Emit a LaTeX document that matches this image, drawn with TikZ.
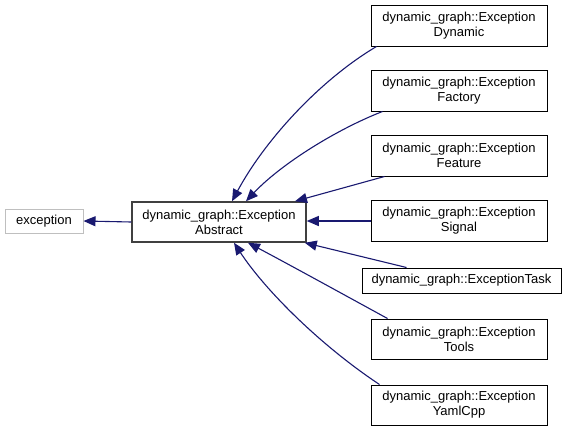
\documentclass[tikz,border=0pt]{standalone}
\usepackage{fontspec}
\setmainfont{Liberation Sans}
\usetikzlibrary{arrows.meta,calc}
\definecolor{edgeblue}{HTML}{191970}
\definecolor{boxgray}{HTML}{404040}
\definecolor{lightgray}{HTML}{BFBFBF}
\begin{document}
\begin{tikzpicture}[x=1pt,y=-1pt,
  font=\fontsize{13}{15}\selectfont,
  cls/.style={draw=black,line width=1pt,fill=white,inner sep=0pt,align=center,minimum width=176pt,minimum height=41pt},
  arr/.style={draw=edgeblue,line width=1.1pt,-{Triangle[length=12pt,width=10pt]}}]
\useasboundingbox (0,0) rectangle (567,431);
\node[draw=lightgray,line width=1pt,inner sep=0pt,minimum width=78pt,minimum height=24pt] (exc) at (44,221) {exception};
\node[draw=boxgray,line width=1.5pt,inner sep=0pt,align=center,minimum width=174pt,minimum height=40pt] (abs) at (219,222) {dynamic\_graph::Exception\\Abstract};
\node[cls] (dyn) at (459,25.5) {dynamic\_graph::Exception\\Dynamic};
\node[cls] (fac) at (459,90.5) {dynamic\_graph::Exception\\Factory};
\node[cls] (fea) at (459,155.5) {dynamic\_graph::Exception\\Feature};
\node[cls] (sig) at (459,221) {dynamic\_graph::Exception\\Signal};
\node[cls,minimum width=199pt,minimum height=25pt] (tsk) at (461.5,280.5) {dynamic\_graph::ExceptionTask};
\node[cls,minimum height=40pt] (too) at (459,339) {dynamic\_graph::Exception\\Tools};
\node[cls,minimum height=40pt] (yam) at (459,405) {dynamic\_graph::Exception\\YamlCpp};

\draw[arr] (abs.west) -- (exc.east);
\draw[arr] ($(dyn.south west)+(6,0)$) .. controls (320,80) and (265,140) .. ($(abs.north)+(13,0)$);
\draw[arr] ($(fac.south west)+(12,0)$) .. controls (335,130) and (280,165) .. ($(abs.north)+(27,0)$);
\draw[arr] ($(fea.south west)+(14,0)$) -- ($(abs.north)+(76,0)$);
\draw[arr] (sig.west) -- ($(abs.east)+(0,-1)$);
\draw[arr] ($(tsk.north west)+(45,0)$) -- ($(abs.south east)+(-2,0)$);
\draw[arr] ($(too.north west)+(17,0)$) .. controls (350,298) and (290,265) .. ($(abs.south)+(29,0)$);
\draw[arr] ($(yam.north west)+(9,0)$) .. controls (320,345) and (265,290) .. ($(abs.south)+(15,0)$);
\end{tikzpicture}
\end{document}
